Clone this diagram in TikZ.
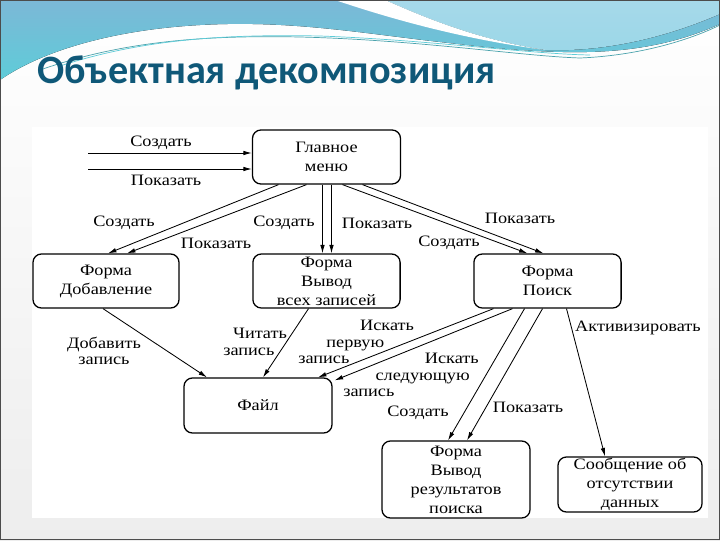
\documentclass[tikz,border=0pt]{standalone}
\usepackage{fontspec}
\setmainfont{Liberation Serif}[FakeStretch=1.15]
\newfontfamily\titlefont{Carlito}
\usepackage{tikz}
\usetikzlibrary{arrows.meta, calc}
\usepackage{xcolor}

\definecolor{titleblue}{HTML}{0F5878}
\definecolor{wavecyan}{HTML}{5ECCD8}
\definecolor{waveblue}{HTML}{7CB8D7}
\definecolor{wavelight}{HTML}{A6D9EA}

\tikzset{
  box/.style={draw, line width=0.9pt, rounded corners=6pt, align=center,
    inner sep=0pt, font=\fontsize{11.3}{13.5}\selectfont},
  lbl/.style={align=center, inner sep=0pt, font=\fontsize{11.3}{11.6}\selectfont},
  flow/.style={-{Latex[length=6pt,width=3.2pt]}, line width=0.6pt}
}

\begin{document}
\begin{tikzpicture}[x=0.025cm, y=-0.025cm]
        \useasboundingbox (0,0) rectangle (720,540);

        % Draw slide background and header wave
        \shade[top color=white, bottom color=black!7] (0,0) rectangle (720,540);
        \fill[top color=waveblue, bottom color=wavecyan] (0,0) -- (720,0) -- (720,24)
            .. controls (640,60) and (560,56) .. (440,42)
            .. controls (360,33) and (290,20) .. (200,25)
            .. controls (110,30) and (40,52) .. (0,80) -- cycle;
        \fill[top color=wavelight, bottom color=wavelight!85!wavecyan] (385,0) -- (720,0) -- (720,14)
            .. controls (660,40) and (600,52) .. (545,50)
            .. controls (480,40) and (430,20) .. (385,0) -- cycle;
        \fill[white] (335,0) -- (385,0) .. controls (430,20) and (480,40) .. (545,50)
            .. controls (470,40) and (400,22) .. (335,0) -- cycle;
        \draw[wavecyan!80!black, line width=0.5pt] (40,70) .. controls (120,42) and (200,35) .. (300,37)
            .. controls (420,40) and (520,56) .. (580,58) .. controls (650,55) and (700,35) .. (720,25);
        \draw[wavecyan, line width=0.5pt] (60,66) .. controls (140,40) and (220,34) .. (320,36)
            .. controls (430,40) and (530,54) .. (590,55);

        % Draw title
        \node[anchor=base west, inner sep=0pt, text=titleblue,
            font=\titlefont\bfseries\fontsize{28.6}{32}\selectfont] (title) at (37,83) {Объектная декомпозиция};

        % Draw picture area and slide frame
        \fill[white] (32,127) rectangle (708,518);
        \draw[black!70, line width=1pt] (0.5,0.5) rectangle (719.5,539.5);

        % Draw boxes
        \node[box, minimum width=3.7cm, minimum height=1.35cm] (menu) at (326.5,157) {Главное\\меню};
        \node[box, minimum width=3.65cm, minimum height=1.35cm] (add) at (106,281) {Форма\\Добавление};
        \node[box, minimum width=3.68cm, minimum height=1.35cm] (all) at (326.5,281) {Форма\\Вывод\\всех записей};
        \node[box, minimum width=3.68cm, minimum height=1.35cm] (search) at (547.5,281) {Форма\\Поиск};
        \node[box, minimum width=3.7cm, minimum height=1.375cm] (file) at (258,405.5) {Файл};
        \node[box, minimum width=3.7cm, minimum height=1.925cm] (result) at (456,479.5) {Форма\\Вывод\\результатов\\поиска};
        \node[box, minimum width=3.6cm, minimum height=1.375cm] (msg) at (630,484.5) {Сообщение об\\отсутствии\\данных};

        % Draw incoming arrows and labels
        \coordinate (inA) at (88,153);
        \coordinate (inB) at (88,169);
        \draw[flow] (inA) -- (inA -| menu.west);
        \draw[flow] (inB) -- (inB -| menu.west);
        \node[lbl] (inCreate) at (161,143) {Создать};
        \node[lbl] (inShow) at (166,180) {Показать};

        % Draw arrows from main menu and labels
        \draw[flow] ($(menu.south)+(-48,0)$) -- ($(add.north)+(2,0)$);
        \draw[flow] ($(menu.south)+(-20,0)$) -- ($(add.north)+(21,0)$);
        \node[lbl] (addCreate) at (124,223) {Создать};
        \node[lbl] (addShow) at (216,243) {Показать};

        \draw[flow] ($(menu.south)+(-4,0)$) -- ($(all.north)+(-4,0)$);
        \draw[flow] ($(menu.south)+(5,0)$) -- ($(all.north)+(5,0)$);
        \node[lbl] (allCreate) at (284,223) {Создать};
        \node[lbl] (allShow) at (377,223) {Показать};

        \draw[flow] ($(menu.south)+(16,0)$) -- ($(search.north)+(-20,0)$);
        \draw[flow] ($(menu.south)+(36,0)$) -- ($(search.north)+(-4,0)$);
        \node[lbl] (searchShow) at (520,218) {Показать};
        \node[lbl] (searchCreate) at (449,243) {Создать};

        % Draw arrows to file and labels
        \draw[flow] ($(add.south)+(-3,0)$) -- ($(file.north)+(-51,0)$);
        \node[lbl] (addRec) at (104,351) {Добавить\\запись};
        \draw[flow] ($(all.south)+(-18,0)$) -- ($(file.north)+(5,0)$);
        \node[lbl, align=left, anchor=west] (readRec) at (223,342) {\hspace*{7pt}Читать\\запись};
        \draw[flow] ($(search.south)+(-54,0)$) -- ($(file.north)+(60,0)$);
        \draw[flow] ($(search.south)+(-35,0)$) -- ($(file.north east)+(2,3)$);
        \node[lbl, align=left, anchor=west] (findFirst) at (298,342) {\hspace*{44pt}Искать\\\hspace*{20pt}первую\\запись};
        \node[lbl, align=left, anchor=west] (findNext) at (343,375) {\hspace*{58pt}Искать\\\hspace*{23pt}следующую\\запись};

        % Draw arrows to search results and message
        \draw[flow] ($(search.south)+(-23,0)$) -- ($(result.north)+(-8,0)$);
        \draw[flow] ($(search.south)+(-5,0)$) -- ($(result.north)+(11,0)$);
        \node[lbl] (resCreate) at (418,413) {Создать};
        \node[lbl] (resShow) at (528,407) {Показать};
        \draw[flow] ($(search.south)+(19,0)$) -- ($(msg.north)+(-25,0)$);
        \node[lbl] (activate) at (638,328) {Активизировать};
\end{tikzpicture}
\end{document}
